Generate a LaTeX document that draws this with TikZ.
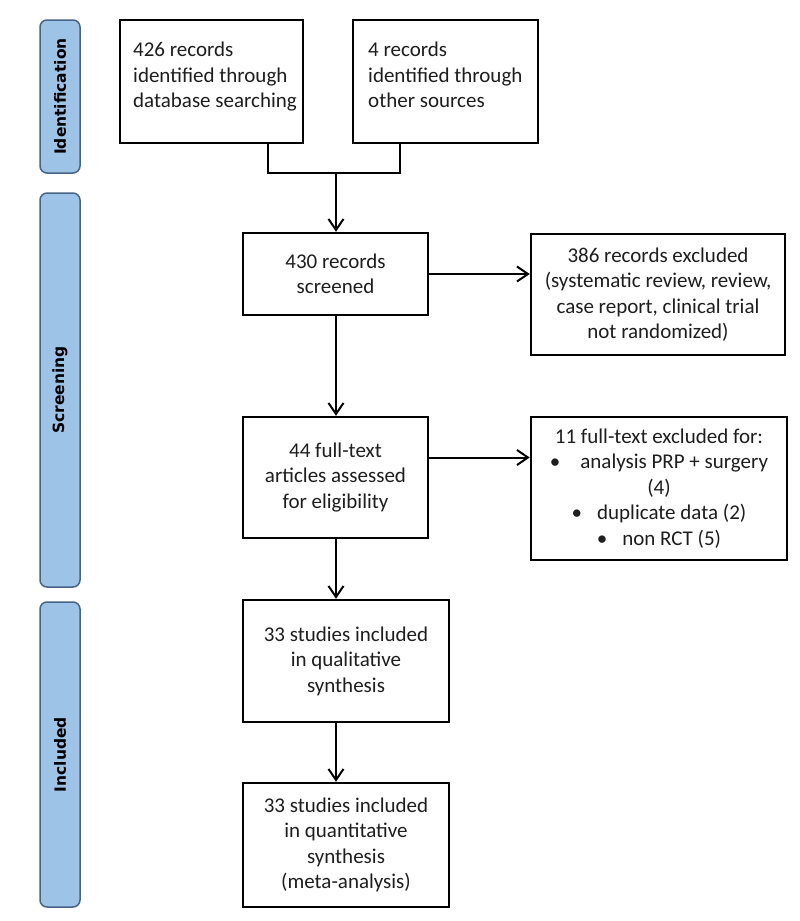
\documentclass[tikz,border=0pt]{standalone}
\usepackage{fontspec}
\setmainfont{Carlito}
\newfontfamily\bandfont{DejaVu Sans}
\usetikzlibrary{arrows.meta,calc}
\definecolor{bandfill}{RGB}{157,195,230}
\definecolor{banddraw}{RGB}{70,100,135}
\definecolor{inktext}{RGB}{30,30,30}
\begin{document}
\begin{tikzpicture}[x=1pt,y=-1pt,
 box/.style={draw=black, line width=2.5pt, fill=white, align=center, inner sep=0pt,
   font=\fontsize{21}{25.5}\selectfont, text=inktext},
 txt/.style={inner sep=0pt, font=\fontsize{21}{25.5}\selectfont, text=inktext},
 band/.style={draw=banddraw, line width=1.5pt, fill=bandfill, rounded corners=7pt, minimum width=40pt},
 bandtext/.style={font=\bandfont\bfseries\fontsize{15.5}{18}\selectfont, rotate=90, text=black},
 conn/.style={line width=2pt},
 arr/.style={line width=2pt, -{Straight Barb[length=11pt,width=15pt]}}]
\useasboundingbox[fill=white] (0,0) rectangle (800,921);

% phase bands
\node[band, minimum height=153pt] (bid) at (60,96.5) {};
\node[bandtext] (bidt) at (bid) {Identification};
\node[band, minimum height=394pt] (bsc) at (60,390) {};
\node[bandtext] (bsct) at (bsc) {Screening};
\node[band, minimum height=305pt] (bin) at (60,754.5) {};
\node[bandtext] (bint) at (bin) {Included};

% identification boxes
\node[box, minimum width=183pt, minimum height=123pt] (b1) at (211.5,81.5) {};
\node[txt, anchor=north west, align=left] (b1t) at (133,42) {426 records\\identified through\\database searching};
\node[box, minimum width=185pt, minimum height=123pt] (b2) at (445.5,81.5) {};
\node[txt, anchor=north west, align=left] (b2t) at (368,42) {4 records\\identified through\\other sources};

% screening
\node[box, minimum width=185pt, minimum height=82pt] (s1) at (335.5,274) {430 records\\screened};
\node[box, minimum width=254pt, minimum height=121pt] (ex1) at (658,294.5)
  {386 records excluded\\(systematic review, review,\\case report, clinical trial\\not randomized)};
\node[box, minimum width=185pt, minimum height=121pt] (s2) at (335.5,477.5)
  {44 full-text\\articles assessed\\for eligibility};
\node[box, minimum width=256pt, minimum height=143pt] (ex2) at (659,488.5)
  {11 full-text excluded for:\\
   \textbullet\hspace{20pt}analysis PRP + surgery\\
   (4)\\
   \textbullet\hspace{15pt}duplicate data (2)\\
   \textbullet\hspace{15pt}non RCT (5)};

% included
\node[box, minimum width=206pt, minimum height=122pt] (i1) at (346,661)
  {33 studies included\\in qualitative\\synthesis};
\node[box, minimum width=206pt, minimum height=124pt] (i2) at (346,845)
  {33 studies included\\in quantitative\\synthesis\\(meta-analysis)};

% connectors
\coordinate (m1) at (268,173);
\coordinate (m2) at (400,173);
\coordinate (mj) at (336,173);
\draw[conn] (m1 |- b1.south) -- (m1) -- (m2) -- (m2 |- b2.south);
\draw[arr] (mj) -- (mj |- s1.north);
\draw[arr] (s1.east) -- (ex1.west |- s1.east);
\coordinate (h2) at ($(s2.east)+(0,-20)$);
\draw[arr] (h2) -- (ex2.west |- h2);
\draw[arr] (mj |- s1.south) -- (mj |- s2.north);
\draw[arr] (mj |- s2.south) -- (mj |- i1.north);
\draw[arr] (mj |- i1.south) -- (mj |- i2.north);
\end{tikzpicture}
\end{document}
